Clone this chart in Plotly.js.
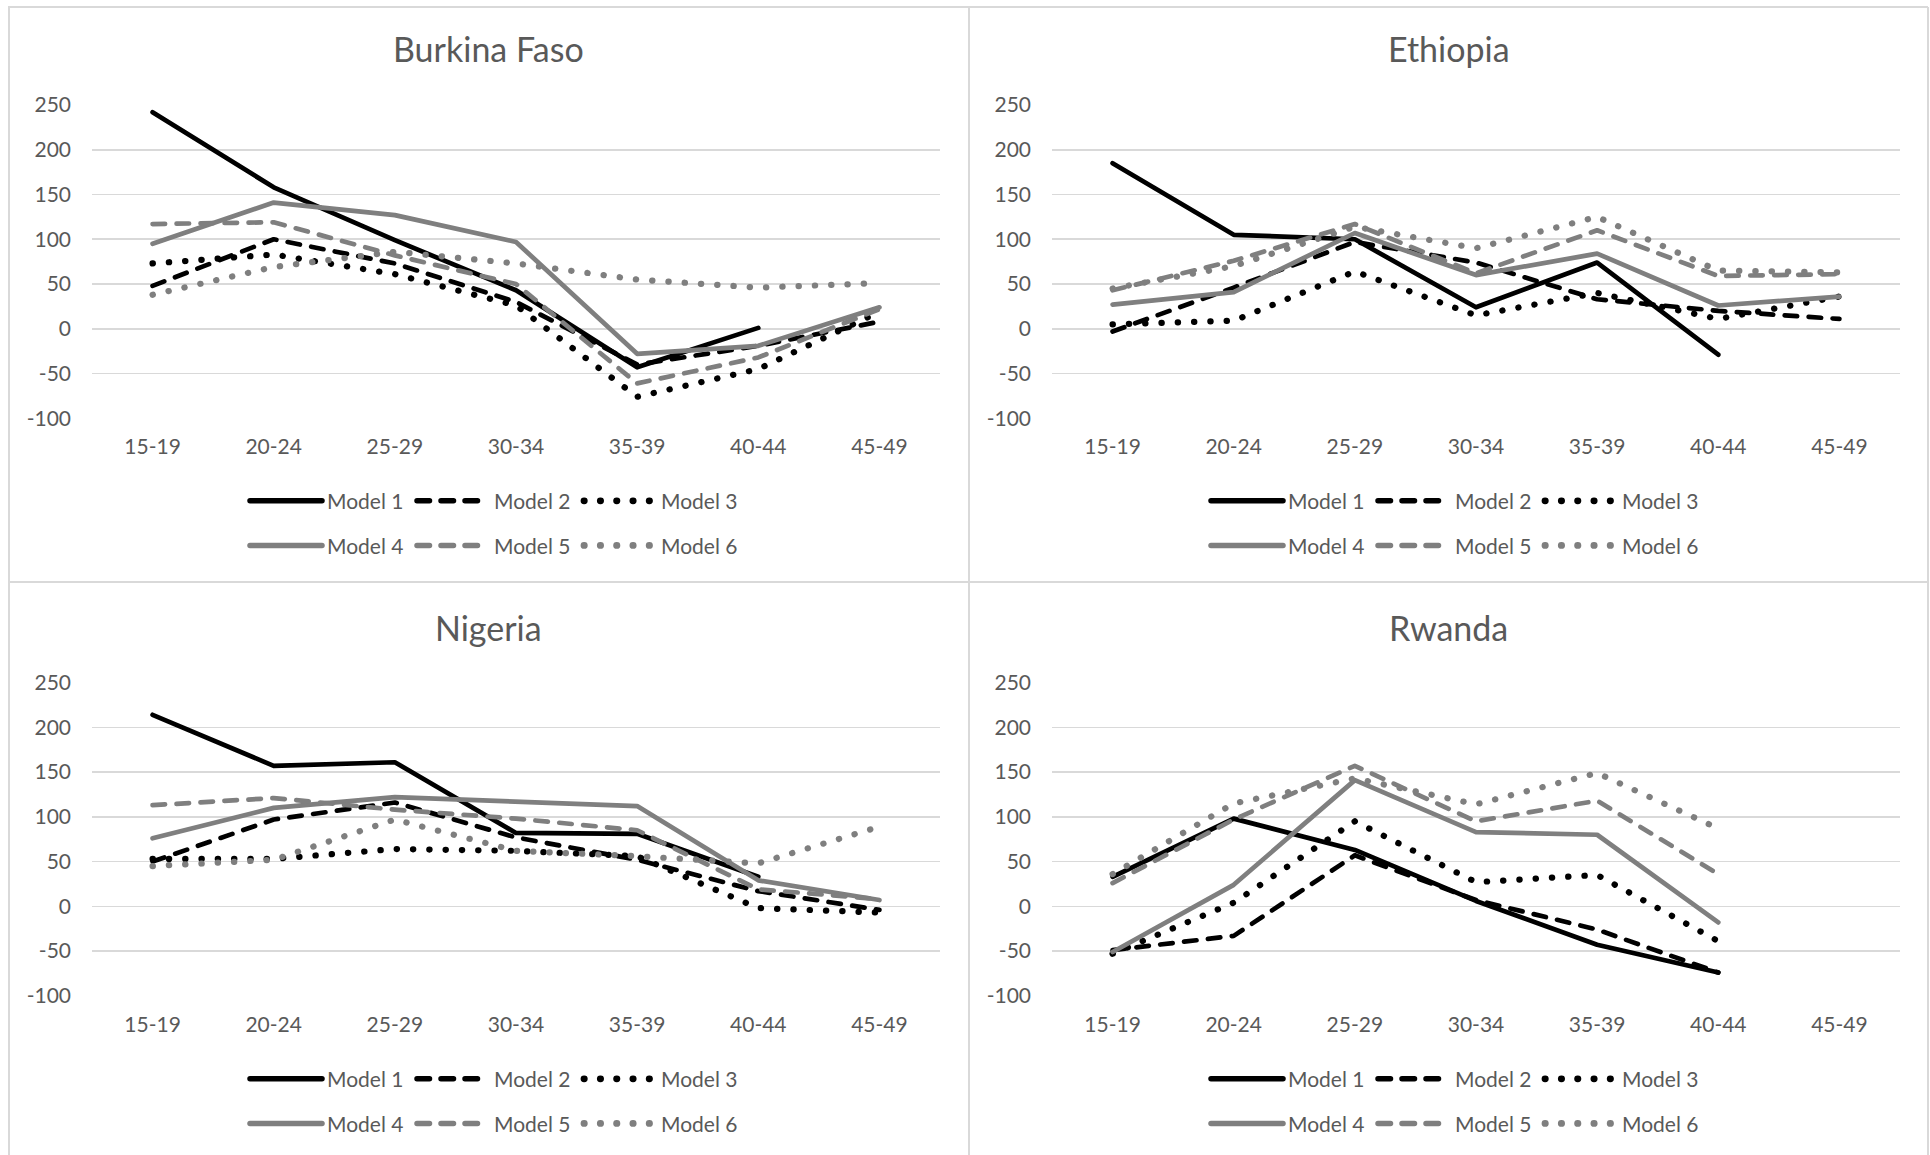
<!DOCTYPE html>
<html>
<head>
<meta charset="utf-8">
<script src="https://cdn.plot.ly/plotly-3.0.1.min.js"></script>
<style>
html, body { margin: 0; padding: 0; background: #ffffff; }
#chart { width: 1930px; height: 1155px; }
.js-line { stroke-linecap: round; stroke-linejoin: round; }
.infolayer path.js-line { stroke-width: 5.5px !important; }
.infolayer path.js-line[style*="16px"] { stroke-width: 6.8px !important; }
</style>
</head>
<body>
<div id="chart"></div>
<script>
// ---------- data ----------
const ageGroups = ['15-19', '20-24', '25-29', '30-34', '35-39', '40-44', '45-49'];
const modelNames = ['Model 1', 'Model 2', 'Model 3', 'Model 4', 'Model 5', 'Model 6'];
const countryNames = ['Burkina Faso', 'Ethiopia', 'Nigeria', 'Rwanda'];

const burkinaM1 = [242, 158, 99, 43, -43, 1, null];
const burkinaM2 = [48, 100, 73, 30, -40, -19, 8];
const burkinaM3 = [73, 83, 61, 26, -76, -45, 19];
const burkinaM4 = [95, 141, 127, 97, -28, -19, 24];
const burkinaM5 = [117, 119, 82, 50, -61, -32, 22];
const burkinaM6 = [38, 69, 86, 73, 55, 46, 51];

const ethiopiaM1 = [185, 105, 100, 24, 74, -29, null];
const ethiopiaM2 = [-3, 46, 97, 74, 33, 20, 11];
const ethiopiaM3 = [5, 9, 64, 15, 40, 11, 36];
const ethiopiaM4 = [27, 41, 107, 60, 84, 26, 36];
const ethiopiaM5 = [43, 76, 117, 62, 110, 59, 61];
const ethiopiaM6 = [45, 70, 114, 90, 125, 65, 63];

const nigeriaM1 = [214, 157, 161, 82, 81, 33, null];
const nigeriaM2 = [50, 97, 116, 77, 52, 17, -4];
const nigeriaM3 = [53, 53, 64, 62, 56, -2, -7];
const nigeriaM4 = [76, 110, 122, 117, 112, 29, 7];
const nigeriaM5 = [113, 121, 108, 98, 85, 19, 8];
const nigeriaM6 = [45, 52, 97, 62, 56, 48, 89];

const rwandaM1 = [33, 98, 63, 6, -43, -74, null];
const rwandaM2 = [-49, -33, 57, 7, -26, -74, null];
const rwandaM3 = [-53, 4, 95, 27, 35, -39, null];
const rwandaM4 = [-51, 24, 141, 83, 80, -18, null];
const rwandaM5 = [26, 97, 157, 95, 118, 36, null];
const rwandaM6 = [36, 115, 143, 114, 149, 87, null];

const yTickValues = [-100, -50, 0, 50, 100, 150, 200, 250];
const yTickLabels = ['-100', '-50', '0', '50', '100', '150', '200', '250'];

const countrySeries = [
  [burkinaM1, burkinaM2, burkinaM3, burkinaM4, burkinaM5, burkinaM6],
  [ethiopiaM1, ethiopiaM2, ethiopiaM3, ethiopiaM4, ethiopiaM5, ethiopiaM6],
  [nigeriaM1, nigeriaM2, nigeriaM3, nigeriaM4, nigeriaM5, nigeriaM6],
  [rwandaM1, rwandaM2, rwandaM3, rwandaM4, rwandaM5, rwandaM6]
];

// ---------- styles ----------
const W = 1930, H = 1155;
const px = v => v / W;
const py = v => 1 - v / H;

const TXT = '#595959';
const GRID = '#d9d9d9';
const FONT = 'Lato, "Open Sans", sans-serif';

const lineColors = ['#000000', '#000000', '#000000', '#7f7f7f', '#7f7f7f', '#7f7f7f'];
const lineDashes = ['solid', '12.5px,11.5px', '0.3px,16px', 'solid', '12.5px,11.5px', '0.3px,16px'];
const lineWidths = [4.7, 4.7, 6.2, 4.7, 4.7, 6.2];

// panel geometry (pixels)
const panelX = [[92, 940], [1052, 1900], [92, 940], [1052, 1900]];
const panelY = [[105, 418.3], [105, 418.3], [682.6, 995.8], [682.6, 995.8]];
const titlePos = [[488.5, 48.5], [1448.5, 48.5], [488.5, 627.5], [1448.5, 627.5]];
const legendX = [245, 1206, 245, 1206];
const legendRowY = [[501.2, 545.8], [501.2, 545.8], [1079.2, 1123.8], [1079.2, 1123.8]];

const traces = [];
const layout = {
  width: W, height: H,
  margin: {l: 0, r: 0, t: 0, b: 0},
  paper_bgcolor: '#ffffff',
  plot_bgcolor: 'rgba(0,0,0,0)',
  showlegend: true,
  font: {family: FONT, color: TXT, size: 21},
  annotations: [],
  shapes: []
};

countrySeries.forEach((series, c) => {
  const sfx = c === 0 ? '' : String(c + 1);
  series.forEach((vals, m) => {
    const legIdx = c * 2 + (m < 3 ? 1 : 2);
    traces.push({
      type: 'scatter', mode: 'lines',
      x: ageGroups, y: vals,
      name: modelNames[m],
      xaxis: 'x' + sfx, yaxis: 'y' + sfx,
      legend: legIdx === 1 ? 'legend' : 'legend' + legIdx,
      line: {color: lineColors[m], width: lineWidths[m], dash: lineDashes[m]},
      connectgaps: false,
      hoverinfo: 'skip'
    });
  });

  layout['xaxis' + sfx] = {
    domain: [px(panelX[c][0]), px(panelX[c][1])],
    anchor: 'y' + sfx,
    type: 'category',
    range: [-0.5, 6.5],
    showgrid: false, zeroline: false, showline: false,
    ticks: '',
    tickfont: {family: FONT, size: 21, color: TXT},
    ticklabelstandoff: 14,
    fixedrange: true
  };
  layout['yaxis' + sfx] = {
    domain: [py(panelY[c][1]), py(panelY[c][0])],
    anchor: 'x' + sfx,
    range: [-100, 250],
    tickvals: yTickValues,
    ticktext: yTickLabels,
    showgrid: true, gridcolor: GRID, gridwidth: 1.6,
    zeroline: false, showline: false,
    ticks: '',
    tickfont: {family: FONT, size: 21, color: TXT},
    ticklabelstandoff: 20,
    fixedrange: true
  };

  layout.annotations.push({
    text: countryNames[c],
    xref: 'paper', yref: 'paper',
    x: px(titlePos[c][0]), y: py(titlePos[c][1]),
    xanchor: 'center', yanchor: 'middle',
    showarrow: false,
    font: {family: FONT, size: 34, color: TXT}
  });

  [0, 1].forEach(r => {
    const idx = c * 2 + r + 1;
    layout[idx === 1 ? 'legend' : 'legend' + idx] = {
      orientation: 'h',
      x: px(legendX[c]), y: py(legendRowY[c][r]),
      xanchor: 'left', yanchor: 'middle',
      xref: 'paper', yref: 'paper',
      bgcolor: 'rgba(0,0,0,0)',
      borderwidth: 0,
      itemwidth: 72,
      entrywidth: 80,
      traceorder: 'normal',
      itemclick: false, itemdoubleclick: false,
      font: {family: FONT, size: 21, color: TXT}
    };
  });
});

// chart frames
const frame = {type: 'line', xref: 'paper', yref: 'paper', line: {color: GRID, width: 2}};
layout.shapes.push(Object.assign({}, frame, {x0: px(8), x1: px(1928), y0: py(7), y1: py(7)}));
layout.shapes.push(Object.assign({}, frame, {x0: px(8), x1: px(1928), y0: py(582), y1: py(582)}));
layout.shapes.push(Object.assign({}, frame, {x0: px(9), x1: px(9), y0: py(7), y1: py(1160)}));
layout.shapes.push(Object.assign({}, frame, {x0: px(969), x1: px(969), y0: py(7), y1: py(1160)}));
layout.shapes.push(Object.assign({}, frame, {x0: px(1928), x1: px(1928), y0: py(7), y1: py(1160)}));

Plotly.newPlot('chart', traces, layout, {staticPlot: true, displayModeBar: false});
</script>
</body>
</html>
